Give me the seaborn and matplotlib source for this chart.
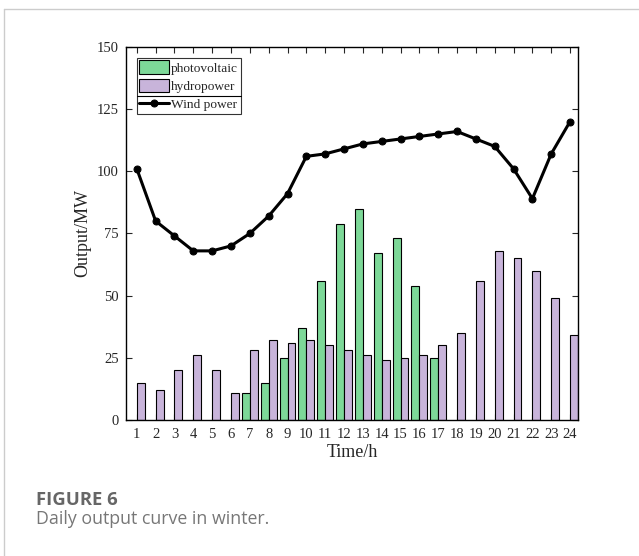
import pandas as pd
import matplotlib.pyplot as plt
import seaborn as sns
from matplotlib.lines import Line2D

# =========================
# DATA
# =========================
hours = list(range(1, 25))
photovoltaic = [0, 0, 0, 0, 0, 0, 11, 15, 25, 37, 56, 79,
                85, 67, 73, 54, 25, 0, 0, 0, 0, 0, 0, 0]
hydropower = [15, 12, 20, 26, 20, 11, 28, 32, 31, 32, 30, 28,
              26, 24, 25, 26, 30, 35, 56, 68, 65, 60, 49, 34]
wind_power = [101, 80, 74, 68, 68, 70, 75, 82, 91, 106, 107, 109,
              111, 112, 113, 114, 115, 116, 113, 110, 101, 89, 107, 120]

bars = pd.DataFrame({
    "hour": hours * 2,
    "output": photovoltaic + hydropower,
    "source": ["photovoltaic"] * 24 + ["hydropower"] * 24,
})
bars = bars[bars["output"] > 0]
wind = pd.DataFrame({"hour": hours, "output": wind_power})

# =========================
# PLOT
# =========================
sns.set_style("ticks")
plt.rcParams["font.family"] = ["Liberation Serif", "DejaVu Serif"]

fig = plt.figure(figsize=(6.39, 5.56), dpi=100)
ax = fig.add_axes([0.197, 0.2446, 0.7075, 0.671])

sns.barplot(data=bars, x="hour", y="output", hue="source",
            hue_order=["photovoltaic", "hydropower"],
            palette={"photovoltaic": "#7dd898", "hydropower": "#c8b4da"},
            saturation=1, native_scale=True, width=0.84, dodge=True,
            edgecolor="black", linewidth=0.8, ax=ax)
sns.lineplot(data=wind, x="hour", y="output", color="black", linewidth=2.2,
             marker="o", markersize=5, markeredgecolor="black",
             label="Wind power", ax=ax)

ax.set_xlim(0.42, 24.42)
ax.set_ylim(0, 150)
ax.set_xticks(hours)
ax.set_yticks([0, 25, 50, 75, 100, 125, 150])
ax.tick_params(direction="in", top=True, right=True, labelsize=10.5,
               length=4, width=0.8, pad=5)
ax.tick_params(axis="x", pad=6)
for s in ax.spines.values():
    s.set_linewidth(1)
    s.set_color("black")
ax.set_xlabel("Time/h", fontsize=13, labelpad=2)
ax.set_ylabel("Output/MW", fontsize=13, labelpad=4)

handles, labels = ax.get_legend_handles_labels()
leg = ax.legend(handles, labels, loc="upper left", fontsize=9.6,
                frameon=True, fancybox=False, edgecolor="black",
                borderpad=0.2, handlelength=2.2, handleheight=1.2,
                handletextpad=0.2, labelspacing=0.3, borderaxespad=0.8)
leg.get_frame().set_linewidth(0.8)

# separator between bar entries and the line entry
fig.canvas.draw()
lb = leg.get_frame().get_window_extent()
t2 = leg.get_texts()[1].get_window_extent()
t3 = leg.get_texts()[2].get_window_extent()
ysep = (t2.y0 + t3.y1) / 2
inv = fig.transFigure.inverted()
(x0, y0), (x1, _) = inv.transform([(lb.x0, ysep), (lb.x1, ysep)])
fig.add_artist(Line2D([x0, x1], [y0, y0], color="black", lw=0.8))

# caption and page frame
fig.text(36 / 639, 1 - 500 / 556, "FIGURE 6", fontsize=13.3, fontweight="bold",
         color="#666666", family="Open Sans", va="center")
fig.text(36 / 639, 1 - 519 / 556, "Daily output curve in winter.", fontsize=12.8,
         color="#777777", family="Open Sans", va="center")
fig.add_artist(Line2D([4 / 639, 1], [1 - 9 / 556] * 2, color="#cccccc", lw=1))
fig.add_artist(Line2D([4 / 639] * 2, [0, 1 - 9 / 556], color="#cccccc", lw=1))

fig.savefig("out.png", dpi=100)
plt.close(fig)
